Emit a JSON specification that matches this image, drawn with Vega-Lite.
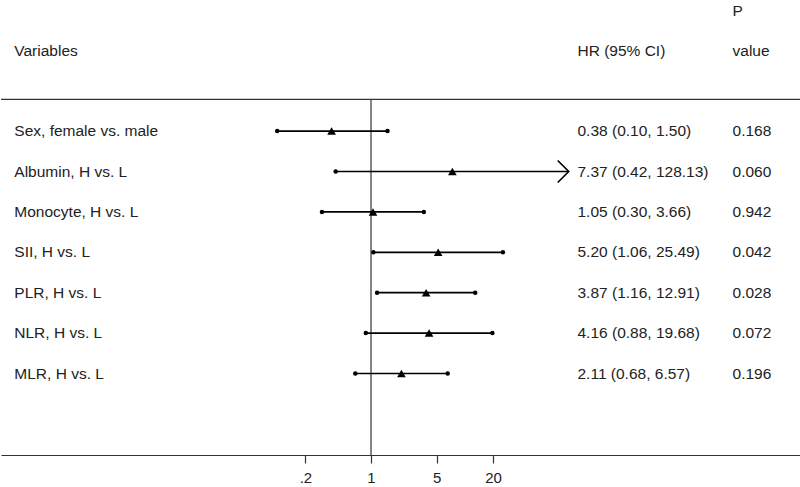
{
  "$schema": "https://vega.github.io/schema/vega-lite/v6.json",
  "width": 800,
  "height": 455,
  "padding": 0,
  "background": "white",
  "config": {"view": {"stroke": null}, "text": {"font": "Liberation Sans", "fontSize": 15.5, "color": "#222"}},
  "data": {"values": [
    {"row": 1, "label": "Sex, female vs. male", "hr": 0.38, "lo": 0.10, "hi": 1.50, "hrtext": "0.38 (0.10, 1.50)", "p": "0.168", "arrow": false},
    {"row": 2, "label": "Albumin, H vs. L", "hr": 7.37, "lo": 0.42, "hi": 128.13, "hrtext": "7.37 (0.42, 128.13)", "p": "0.060", "arrow": true},
    {"row": 3, "label": "Monocyte, H vs. L", "hr": 1.05, "lo": 0.30, "hi": 3.66, "hrtext": "1.05 (0.30, 3.66)", "p": "0.942", "arrow": false},
    {"row": 4, "label": "SII, H vs. L", "hr": 5.20, "lo": 1.06, "hi": 25.49, "hrtext": "5.20 (1.06, 25.49)", "p": "0.042", "arrow": false},
    {"row": 5, "label": "PLR, H vs. L", "hr": 3.87, "lo": 1.16, "hi": 12.91, "hrtext": "3.87 (1.16, 12.91)", "p": "0.028", "arrow": false},
    {"row": 6, "label": "NLR, H vs. L", "hr": 4.16, "lo": 0.88, "hi": 19.68, "hrtext": "4.16 (0.88, 19.68)", "p": "0.072", "arrow": false},
    {"row": 7, "label": "MLR, H vs. L", "hr": 2.11, "lo": 0.68, "hi": 6.57, "hrtext": "2.11 (0.68, 6.57)", "p": "0.196", "arrow": false}
  ]},
  "layer": [
    {
      "data": {"values": [{}]},
      "mark": {"type": "rule", "color": "#333", "strokeWidth": 1.2},
      "encoding": {
        "x": {"datum": 1, "type": "quantitative", "scale": {"type": "log", "domain": [0.0001136, 38390], "nice": false, "zero": false}, "axis": {"values": [0.2, 1, 5, 20], "labelExpr": "datum.value < 1 ? substring(format(datum.value, '.1f'), 1) : format(datum.value, 'd')", "title": null, "grid": false, "domainColor": "#333", "domainWidth": 1.2, "tickColor": "#333", "tickWidth": 1.2, "tickSize": 8, "labelPadding": 7, "labelFont": "Liberation Sans", "labelFontSize": 15, "labelColor": "#222", "labelFlush": false, "labelOverlap": false}},
        "y": {"datum": 0.213, "type": "quantitative", "scale": {"domain": [-2.245, 9.017], "reverse": true, "nice": false, "zero": false}, "axis": null},
        "y2": {"datum": 9.017}
      }
    },
    {
      "data": {"values": [{}]},
      "mark": {"type": "rule", "color": "#333", "strokeWidth": 1.2},
      "encoding": {
        "y": {"datum": 0.213, "type": "quantitative", "scale": {"domain": [-2.245, 9.017], "reverse": true, "nice": false, "zero": false}, "axis": null}
      }
    },
    {
      "mark": {"type": "rule", "color": "black", "strokeWidth": 1.7},
      "encoding": {
        "x": {"field": "lo", "type": "quantitative", "scale": {"type": "log", "domain": [0.0001136, 38390], "nice": false, "zero": false}, "axis": {"values": [0.2, 1, 5, 20], "labelExpr": "datum.value < 1 ? substring(format(datum.value, '.1f'), 1) : format(datum.value, 'd')", "title": null, "grid": false, "domainColor": "#333", "domainWidth": 1.2, "tickColor": "#333", "tickWidth": 1.2, "tickSize": 8, "labelPadding": 7, "labelFont": "Liberation Sans", "labelFontSize": 15, "labelColor": "#222", "labelFlush": false, "labelOverlap": false}},
        "x2": {"field": "hi"},
        "y": {"field": "row", "type": "quantitative", "scale": {"domain": [-2.245, 9.017], "reverse": true, "nice": false, "zero": false}, "axis": null}
      }
    },
    {
      "mark": {"type": "point", "shape": "circle", "filled": true, "color": "black", "size": 20, "opacity": 1},
      "encoding": {
        "x": {"field": "lo", "type": "quantitative", "scale": {"type": "log", "domain": [0.0001136, 38390], "nice": false, "zero": false}},
        "y": {"field": "row", "type": "quantitative", "scale": {"domain": [-2.245, 9.017], "reverse": true, "nice": false, "zero": false}, "axis": null}
      }
    },
    {
      "transform": [{"filter": "!datum.arrow"}],
      "mark": {"type": "point", "shape": "circle", "filled": true, "color": "black", "size": 20, "opacity": 1},
      "encoding": {
        "x": {"field": "hi", "type": "quantitative", "scale": {"type": "log", "domain": [0.0001136, 38390], "nice": false, "zero": false}},
        "y": {"field": "row", "type": "quantitative", "scale": {"domain": [-2.245, 9.017], "reverse": true, "nice": false, "zero": false}, "axis": null}
      }
    },
    {
      "transform": [{"filter": "datum.arrow"}],
      "mark": {"type": "point", "shape": "M-1,-1L0,0L-1,1", "filled": false, "stroke": "black", "strokeWidth": 1.7, "size": 484, "opacity": 1},
      "encoding": {
        "x": {"field": "hi", "type": "quantitative", "scale": {"type": "log", "domain": [0.0001136, 38390], "nice": false, "zero": false}},
        "y": {"field": "row", "type": "quantitative", "scale": {"domain": [-2.245, 9.017], "reverse": true, "nice": false, "zero": false}, "axis": null}
      }
    },
    {
      "mark": {"type": "point", "shape": "triangle-up", "filled": true, "color": "black", "size": 75, "opacity": 1},
      "encoding": {
        "x": {"field": "hr", "type": "quantitative", "scale": {"type": "log", "domain": [0.0001136, 38390], "nice": false, "zero": false}},
        "y": {"field": "row", "type": "quantitative", "scale": {"domain": [-2.245, 9.017], "reverse": true, "nice": false, "zero": false}, "axis": null}
      }
    },
    {
      "mark": {"type": "text", "align": "left", "baseline": "middle"},
      "encoding": {
        "x": {"datum": 0.0001575, "type": "quantitative", "scale": {"type": "log", "domain": [0.0001136, 38390], "nice": false, "zero": false}},
        "y": {"field": "row", "type": "quantitative", "scale": {"domain": [-2.245, 9.017], "reverse": true, "nice": false, "zero": false}, "axis": null},
        "text": {"field": "label"}
      }
    },
    {
      "mark": {"type": "text", "align": "left", "baseline": "middle"},
      "encoding": {
        "x": {"datum": 159, "type": "quantitative", "scale": {"type": "log", "domain": [0.0001136, 38390], "nice": false, "zero": false}},
        "y": {"field": "row", "type": "quantitative", "scale": {"domain": [-2.245, 9.017], "reverse": true, "nice": false, "zero": false}, "axis": null},
        "text": {"field": "hrtext"}
      }
    },
    {
      "mark": {"type": "text", "align": "left", "baseline": "middle"},
      "encoding": {
        "x": {"datum": 7145, "type": "quantitative", "scale": {"type": "log", "domain": [0.0001136, 38390], "nice": false, "zero": false}},
        "y": {"field": "row", "type": "quantitative", "scale": {"domain": [-2.245, 9.017], "reverse": true, "nice": false, "zero": false}, "axis": null},
        "text": {"field": "p"}
      }
    },
    {
      "data": {"values": [{}]},
      "mark": {"type": "text", "align": "left", "baseline": "middle", "text": "Variables"},
      "encoding": {
        "x": {"datum": 0.0001575, "type": "quantitative", "scale": {"type": "log", "domain": [0.0001136, 38390], "nice": false, "zero": false}},
        "y": {"datum": -0.983, "type": "quantitative", "scale": {"domain": [-2.245, 9.017], "reverse": true, "nice": false, "zero": false}, "axis": null}
      }
    },
    {
      "data": {"values": [{}]},
      "mark": {"type": "text", "align": "left", "baseline": "middle", "text": "HR (95% CI)"},
      "encoding": {
        "x": {"datum": 159, "type": "quantitative", "scale": {"type": "log", "domain": [0.0001136, 38390], "nice": false, "zero": false}},
        "y": {"datum": -0.983, "type": "quantitative", "scale": {"domain": [-2.245, 9.017], "reverse": true, "nice": false, "zero": false}, "axis": null}
      }
    },
    {
      "data": {"values": [{}]},
      "mark": {"type": "text", "align": "left", "baseline": "middle", "text": "value"},
      "encoding": {
        "x": {"datum": 7145, "type": "quantitative", "scale": {"type": "log", "domain": [0.0001136, 38390], "nice": false, "zero": false}},
        "y": {"datum": -0.983, "type": "quantitative", "scale": {"domain": [-2.245, 9.017], "reverse": true, "nice": false, "zero": false}, "axis": null}
      }
    },
    {
      "data": {"values": [{}]},
      "mark": {"type": "text", "align": "left", "baseline": "middle", "text": "P"},
      "encoding": {
        "x": {"datum": 7145, "type": "quantitative", "scale": {"type": "log", "domain": [0.0001136, 38390], "nice": false, "zero": false}},
        "y": {"datum": -1.978, "type": "quantitative", "scale": {"domain": [-2.245, 9.017], "reverse": true, "nice": false, "zero": false}, "axis": null}
      }
    }
  ]
}
